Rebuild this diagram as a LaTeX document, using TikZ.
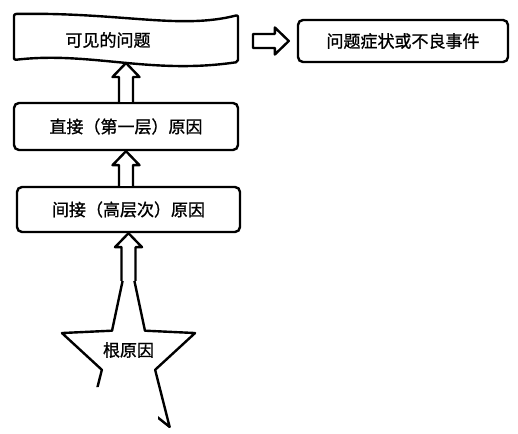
\documentclass[tikz,border=0pt]{standalone}
\usepackage{fontspec}
\setmainfont{Noto Sans CJK SC}[FakeBold=1]
\usetikzlibrary{calc}

% hollow block arrow from #2 to #3, #1 closes the tail if wanted
\newcommand{\hollowarrow}[3][]{%
  \coordinate (hs) at (#2);
  \coordinate (ht) at (#3);
  \coordinate (hb) at ($(ht)!14pt!(hs)$);
  \filldraw[hollow] ($(hs)!7pt!90:(ht)$) -- ($(hb)!7pt!90:(ht)$) -- ($(hb)!13.5pt!90:(ht)$)
    -- (ht) -- ($(hb)!13.5pt!-90:(ht)$) -- ($(hb)!7pt!-90:(ht)$) -- ($(hs)!7pt!-90:(ht)$) #1;
}

\begin{document}
\begin{tikzpicture}[x=1pt,y=1pt,
    box/.style={draw, line width=2.4pt, rounded corners=5pt, fill=white, font=\fontsize{17pt}{20pt}\selectfont},
    hollow/.style={draw, fill=white, line width=2.4pt, line join=round},
    label/.style={font=\fontsize{17pt}{20pt}\selectfont}]
		\useasboundingbox (0,0) rectangle (518,433);
		% wavy banner on top
		\filldraw[hollow, rounded corners=2pt] (14,373) -- (14,419) .. controls (120,421) and (180,403) .. (238,418)
			-- (238,371) .. controls (150,358) and (90,382) .. (14,373) -- cycle;
		\node[label] (visible) at (108,393) {可见的问题};
		\coordinate (visbot) at (126,370);
		\node[box, minimum width=210pt, minimum height=42pt] (symptom) at (403,392) {问题症状或不良事件};
		\node[box, minimum width=224pt, minimum height=47pt] (direct) at (126,306.5) {直接（第一层）原因};
		\node[box, minimum width=223pt, minimum height=45pt] (indirect) at (128.5,223.5) {间接（高层次）原因};
		% star, its lower left corner is cut away
		\coordinate (starc) at (128.5,74);
		\begin{scope}
			\clip (0,46) -- (158,46) -- (158,0) -- (518,0) -- (518,433) -- (0,433) -- cycle;
			\filldraw[hollow] ($(starc)+(90:0 and 106)$) -- ($(starc)+(126:28 and 35)$) -- ($(starc)+(162:70 and 84)$)
				-- ($(starc)+(198:28 and 35)$) -- ($(starc)+(234:70 and 84)$) -- ($(starc)+(270:28 and 35)$)
				-- ($(starc)+(306:70 and 84)$) -- ($(starc)+(342:28 and 35)$) -- ($(starc)+(18:70 and 84)$)
				-- ($(starc)+(54:28 and 35)$) -- cycle;
		\end{scope}
		\node[label] (root) at ($(starc)+(0,9)$) {根原因};
		\coordinate (roottop) at ($(starc)+(0,78)$);
		% arrows
		\coordinate (arrtail) at (253,392);
		\coordinate (arrtip) at ($(symptom.west)+(-8,0)$);
		\hollowarrow[-- cycle]{arrtail}{arrtip}
		\hollowarrow{direct.north}{visbot}
		\hollowarrow{direct.south |- indirect.north}{direct.south}
		\hollowarrow{roottop}{indirect.south}
\end{tikzpicture}
\end{document}
